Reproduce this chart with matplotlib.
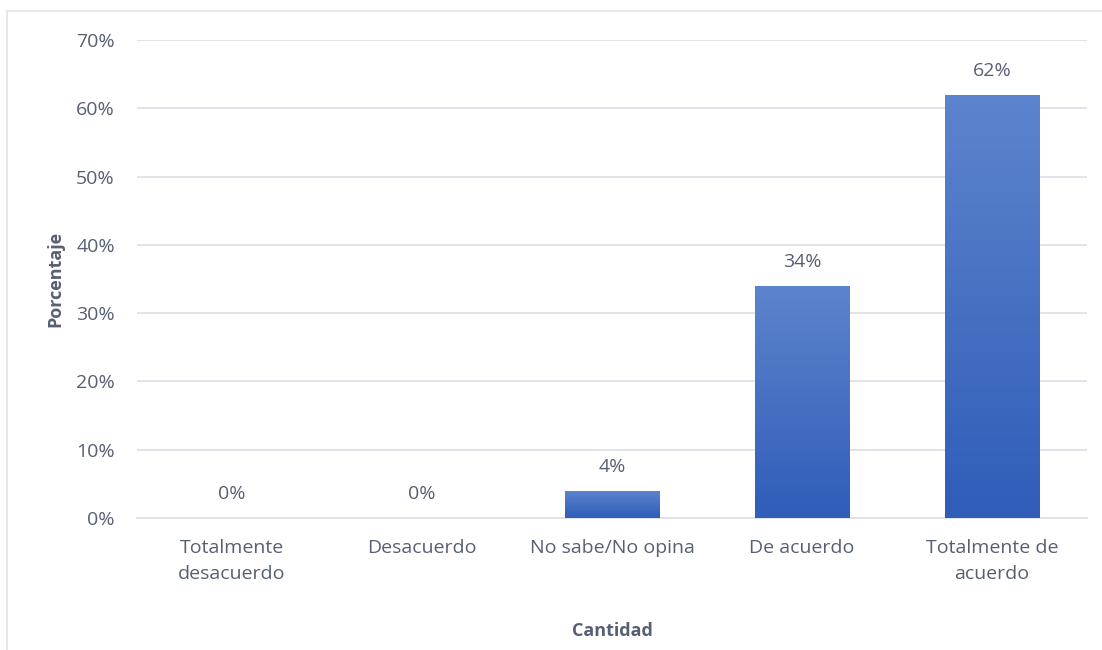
import numpy as np
import matplotlib.pyplot as plt
from matplotlib.patches import Rectangle
from matplotlib.colors import LinearSegmentedColormap

# -----------------------------
# Data
# -----------------------------
categories = ["Totalmente\ndesacuerdo", "Desacuerdo", "No sabe/No opina",
              "De acuerdo", "Totalmente de\nacuerdo"]
values = [0, 0, 4, 34, 62]
yticks = [0, 10, 20, 30, 40, 50, 60, 70]

TEXT = "#566072"
GRID = "#dde1e8"

plt.rcParams["font.family"] = ["Open Sans", "DejaVu Sans"]

fig = plt.figure(figsize=(11.02, 6.5), dpi=100)
ax = fig.add_axes([137 / 1102, 1 - 518 / 650, 950 / 1102, 478 / 650])

# outer chart border (Excel-like frame)
fig.add_artist(Rectangle((7 / 1102, -0.1), 1.2, 1 - 11 / 650 + 0.1,
                         transform=fig.transFigure, fill=False,
                         edgecolor="#dfe3ea", linewidth=1.2))

x = np.arange(len(categories))
bars = ax.bar(x, values, width=0.5, color="none", zorder=3)

# vertical gradient on each bar: lighter on top, darker at the bottom
cmap = LinearSegmentedColormap.from_list("bar", ["#2f5db8", "#5d84cd"])
grad = np.linspace(0, 1, 256).reshape(-1, 1)
for b in bars:
    h = b.get_height()
    if h <= 0:
        continue
    x0 = b.get_x()
    w = b.get_width()
    im = ax.imshow(grad, cmap=cmap, origin="lower", aspect="auto",
                   extent=[x0, x0 + w, 0, h], zorder=3)
    im.set_clip_path(b)

for xi, v in zip(x, values):
    ax.annotate(f"{v}%", (xi, v), xytext=(0, 24), textcoords="offset pixels",
                ha="center", va="center", fontsize=14, color=TEXT)

ax.set_xlim(-0.5, len(categories) - 0.5)
ax.set_ylim(0, 70)
ax.set_yticks(yticks)
ax.set_yticklabels([f"{t}%" for t in yticks])
ax.set_xticks(x)
ax.set_xticklabels(categories, linespacing=1.6)

ax.yaxis.grid(True, color=GRID, linewidth=1.3)
ax.set_axisbelow(True)
for s in ["top", "right", "left"]:
    ax.spines[s].set_visible(False)
ax.spines["bottom"].set_color(GRID)
ax.spines["bottom"].set_linewidth(1.3)
ax.tick_params(axis="both", length=0, labelsize=14, colors=TEXT)
ax.tick_params(axis="y", pad=16)
ax.tick_params(axis="x", pad=15)

ax.set_xlabel("Cantidad", fontsize=13, fontweight="bold", color=TEXT)
ax.set_ylabel("Porcentaje", fontsize=13, fontweight="bold", color=TEXT)
ax.xaxis.set_label_coords(0.5, -(631 - 518) / 478)
ax.yaxis.set_label_coords(-(137 - 55) / 950, 0.5)
ax.xaxis.label.set_va("center")
ax.yaxis.label.set_va("center")

fig.savefig("out.png", dpi=100)
